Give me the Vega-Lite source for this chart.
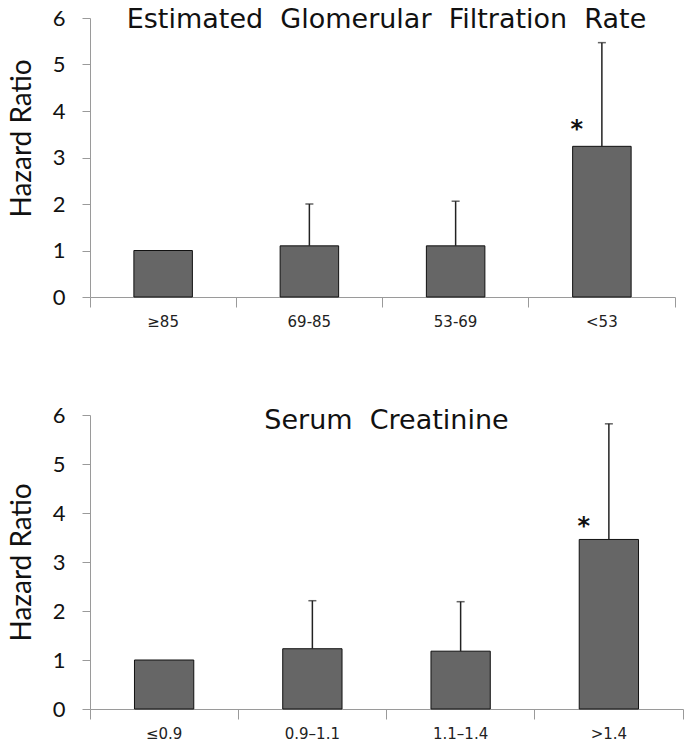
{
  "$schema": "https://vega.github.io/schema/vega-lite/v6.json",
  "background": "white",
  "padding": {"left": 8, "top": 6, "right": 4, "bottom": 4},
  "spacing": 75,
  "config": {
    "view": {"stroke": null},
    "font": "Lato",
    "axis": {"grid": false, "domainColor": "#9a9a9a", "tickColor": "#9a9a9a", "labelColor": "#111111"},
    "title": {"font": "DejaVu Sans", "fontSize": 27, "fontWeight": "normal", "color": "#111111", "anchor": "middle"}
  },
  "vconcat": [
    {
      "width": 585,
      "height": 279,
      "title": {"text": "Estimated \u00a0Glomerular \u00a0Filtration \u00a0Rate", "offset": -27, "dx": 4},
      "data": {"values": [
        {"group": "≥85", "hr": 1.0, "upper": null, "star": null},
        {"group": "69-85", "hr": 1.1, "upper": 2.0, "star": null},
        {"group": "53-69", "hr": 1.1, "upper": 2.06, "star": null},
        {"group": "<53", "hr": 3.24, "upper": 5.47, "star": 3.72}
      ]},
      "resolve": {"axis": {"x": "independent"}},
      "layer": [
        {
          "mark": {"type": "bar", "width": {"band": 0.4}, "color": "#666666", "stroke": "#111111", "strokeWidth": 1},
          "encoding": {
            "x": {"field": "group", "type": "nominal", "sort": null, "scale": {"paddingInner": 0, "paddingOuter": 0},
              "axis": {"orient": "bottom", "title": null, "labelAngle": 0, "ticks": false, "domain": false, "labelPadding": 17, "labelFont": "DejaVu Sans", "labelFontSize": 15, "labelColor": "#222222"}},
            "y": {"field": "hr", "type": "quantitative", "scale": {"domain": [0, 6]},
              "axis": {"values": [0, 1, 2, 3, 4, 5, 6], "title": "Hazard Ratio", "titleFont": "Lato", "titleFontSize": 28, "titleFontWeight": "normal", "titleColor": "#111111", "labelFontSize": 22, "tickSize": 8, "labelPadding": 17, "titlePadding": 16, "titleY": 120}}
          }
        },
        {
          "transform": [{"filter": "datum.upper != null"}],
          "mark": {"type": "rule", "color": "#222222", "strokeWidth": 1.5},
          "encoding": {
            "x": {"field": "group", "type": "nominal", "sort": null,
              "axis": {"orient": "bottom", "title": null, "labels": false, "bandPosition": 0, "tickSize": 10}},
            "y": {"field": "hr", "type": "quantitative"},
            "y2": {"field": "upper"}
          }
        },
        {
          "transform": [{"filter": "datum.upper != null"}],
          "mark": {"type": "tick", "color": "#222222", "size": 8, "thickness": 1.5},
          "encoding": {
            "x": {"field": "group", "type": "nominal", "sort": null,
              "axis": {"orient": "bottom", "title": null, "labels": false, "domain": false, "bandPosition": 1, "values": ["<53"], "tickSize": 10}},
            "y": {"field": "upper", "type": "quantitative"}
          }
        },
        {
          "transform": [{"filter": "datum.star != null"}],
          "mark": {"type": "text", "text": "*", "dx": -25, "dy": 6, "font": "DejaVu Sans", "fontSize": 24, "fontWeight": "bold", "baseline": "middle", "color": "#111111"},
          "encoding": {
            "x": {"field": "group", "type": "nominal", "sort": null, "axis": null},
            "y": {"field": "star", "type": "quantitative"}
          }
        }
      ]
    },
    {
      "width": 593,
      "height": 294,
      "title": {"text": "Serum \u00a0Creatinine", "offset": -31},
      "data": {"values": [
        {"group": "≤0.9", "hr": 1.0, "upper": null, "star": null},
        {"group": "0.9–1.1", "hr": 1.23, "upper": 2.21, "star": null},
        {"group": "1.1–1.4", "hr": 1.18, "upper": 2.19, "star": null},
        {"group": ">1.4", "hr": 3.46, "upper": 5.82, "star": 3.83}
      ]},
      "resolve": {"axis": {"x": "independent"}},
      "layer": [
        {
          "mark": {"type": "bar", "width": {"band": 0.4}, "color": "#666666", "stroke": "#111111", "strokeWidth": 1},
          "encoding": {
            "x": {"field": "group", "type": "nominal", "sort": null, "scale": {"paddingInner": 0, "paddingOuter": 0},
              "axis": {"orient": "bottom", "title": null, "labelAngle": 0, "ticks": false, "domain": false, "labelPadding": 17, "labelFont": "DejaVu Sans", "labelFontSize": 15, "labelColor": "#222222"}},
            "y": {"field": "hr", "type": "quantitative", "scale": {"domain": [0, 6]},
              "axis": {"values": [0, 1, 2, 3, 4, 5, 6], "title": "Hazard Ratio", "titleFont": "Lato", "titleFontSize": 28, "titleFontWeight": "normal", "titleColor": "#111111", "labelFontSize": 22, "tickSize": 8, "labelPadding": 17, "titlePadding": 16}}
          }
        },
        {
          "transform": [{"filter": "datum.upper != null"}],
          "mark": {"type": "rule", "color": "#222222", "strokeWidth": 1.5},
          "encoding": {
            "x": {"field": "group", "type": "nominal", "sort": null,
              "axis": {"orient": "bottom", "title": null, "labels": false, "bandPosition": 0, "tickSize": 10}},
            "y": {"field": "hr", "type": "quantitative"},
            "y2": {"field": "upper"}
          }
        },
        {
          "transform": [{"filter": "datum.upper != null"}],
          "mark": {"type": "tick", "color": "#222222", "size": 8, "thickness": 1.5},
          "encoding": {
            "x": {"field": "group", "type": "nominal", "sort": null,
              "axis": {"orient": "bottom", "title": null, "labels": false, "domain": false, "bandPosition": 1, "values": [">1.4"], "tickSize": 10}},
            "y": {"field": "upper", "type": "quantitative"}
          }
        },
        {
          "transform": [{"filter": "datum.star != null"}],
          "mark": {"type": "text", "text": "*", "dx": -25, "dy": 6, "font": "DejaVu Sans", "fontSize": 24, "fontWeight": "bold", "baseline": "middle", "color": "#111111"},
          "encoding": {
            "x": {"field": "group", "type": "nominal", "sort": null, "axis": null},
            "y": {"field": "star", "type": "quantitative"}
          }
        }
      ]
    }
  ]
}
